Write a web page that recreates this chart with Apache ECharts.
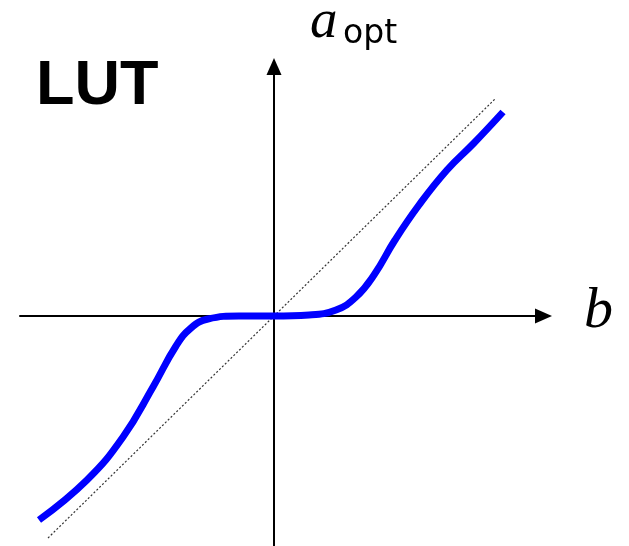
<!DOCTYPE html>
<html>
<head>
<meta charset="utf-8">
<script src="https://cdn.jsdelivr.net/npm/echarts@6/dist/echarts.min.js"></script>
<style>
  html, body { margin: 0; padding: 0; background: #fff; }
  #chart { width: 629px; height: 546px; }
</style>
</head>
<body>
<div id="chart"></div>
<script>
// b (input) vs a_opt (lookup table output), origin at axis crossing
var lutB = [-235, -187, -151, -121, -98, -83, -66, -35, 0, 35, 62, 82, 100, 121, 145, 173, 200, 229];
var lutA = [-204, -164, -121, -71, -30, -12, -3, 0, 0, 1, 6, 19, 41, 76, 111, 146, 173, 204];
// identity reference a = b
var idB = [-226, 222];
var idA = [-222, 218];

function pairs(xs, ys) {
  var out = [];
  for (var i = 0; i < xs.length; i++) out.push([xs[i], ys[i]]);
  return out;
}

var chart = echarts.init(document.getElementById('chart'));
var option = {
  animation: false,
  backgroundColor: '#fff',
  grid: { left: 20, right: 85.5, top: 66.5, bottom: 0 },
  xAxis: {
    type: 'value', min: -254, max: 269.5,
    axisLine: { onZero: true, lineStyle: { color: '#000', width: 2 },
      symbol: ['none', 'triangle'], symbolSize: [15, 17] },
    axisTick: { show: false }, axisLabel: { show: false }, splitLine: { show: false }
  },
  yAxis: {
    type: 'value', min: -230, max: 249.5,
    axisLine: { onZero: true, lineStyle: { color: '#000', width: 2 },
      symbol: ['none', 'triangle'], symbolSize: [15, 17] },
    axisTick: { show: false }, axisLabel: { show: false }, splitLine: { show: false }
  },
  graphic: [
    { type: 'text', left: 36, top: 55,
      style: { text: 'LUT', font: 'bold 63px "Liberation Sans", Arial, sans-serif', fill: '#000' } },
    { type: 'text', left: 310, top: -5,
      style: { text: 'a', font: 'italic 55px "Liberation Serif", "Times New Roman", serif', fill: '#000' } },
    { type: 'text', left: 343, top: 18,
      style: { text: 'opt', font: '33px "DejaVu Sans", sans-serif', fill: '#000' } },
    { type: 'text', left: 584, top: 283,
      style: { text: 'b', font: 'italic 58px "Liberation Serif", "Times New Roman", serif', fill: '#000' } }
  ],
  series: [
    {
      type: 'line', data: pairs(idB, idA), symbol: 'none', silent: true,
      lineStyle: { color: '#333', width: 1.2, type: [2, 2] }
    },
    {
      type: 'line', data: pairs(lutB, lutA), symbol: 'none', smooth: 0.45, silent: true,
      lineStyle: { color: '#0000ff', width: 7, cap: 'butt' }
    }
  ]
};
chart.setOption(option);
</script>
</body>
</html>
